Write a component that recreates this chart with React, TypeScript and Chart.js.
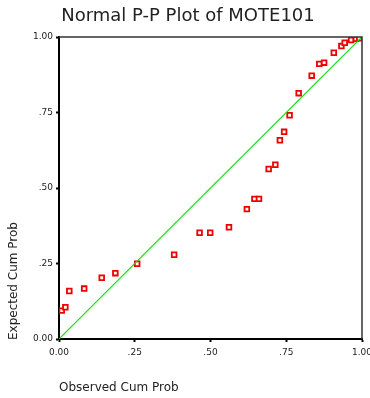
import React, { useEffect, useRef } from "react";
import { Chart, registerables } from "chart.js";

Chart.register(...registerables);

const chartTitle = "Normal P-P Plot of MOTE101";
const xTitle = "Observed Cum Prob";
const yTitle = "Expected Cum Prob";
const tickValues = [0, 0.25, 0.5, 0.75, 1];
const tickLabels = ["0.00", ".25", ".50", ".75", "1.00"];

const observed = [
  0.009, 0.021, 0.034, 0.083, 0.141, 0.186, 0.258, 0.38, 0.464, 0.499,
  0.561, 0.62, 0.645, 0.66, 0.692, 0.714, 0.729, 0.743, 0.761, 0.791,
  0.834, 0.859, 0.875, 0.907, 0.932, 0.943, 0.964, 0.98, 0.991,
];
const expected = [
  0.094, 0.105, 0.159, 0.167, 0.203, 0.218, 0.249, 0.279, 0.352, 0.352,
  0.37, 0.43, 0.464, 0.464, 0.563, 0.577, 0.658, 0.686, 0.741, 0.814,
  0.872, 0.911, 0.915, 0.948, 0.97, 0.981, 0.99, 0.994, 0.996,
];
const refLine = [0, 1];

const FONT = "'DejaVu Sans', sans-serif";

const decorPlugin = {
  id: "decor",
  afterDraw(chart: any) {
    const { ctx, chartArea } = chart;
    const { left, right, top, bottom } = chartArea;
    ctx.save();
    ctx.strokeStyle = "#333";
    ctx.lineWidth = 1.5;
    ctx.beginPath();
    ctx.moveTo(left, top);
    ctx.lineTo(right, top);
    ctx.lineTo(right, bottom);
    ctx.stroke();
    ctx.fillStyle = "#222";
    ctx.font = `18px ${FONT}`;
    ctx.textAlign = "center";
    ctx.textBaseline = "alphabetic";
    ctx.fillText(chartTitle, 188, 21);
    ctx.font = `12px ${FONT}`;
    ctx.textAlign = "left";
    ctx.textBaseline = "middle";
    ctx.fillText(xTitle, left, 388);
    ctx.translate(14, bottom + 1);
    ctx.rotate(-Math.PI / 2);
    ctx.fillText(yTitle, 0, 0);
    ctx.restore();
  },
};

export default function App() {
  const ref = useRef<HTMLCanvasElement>(null);
  useEffect(() => {
    if (!ref.current) return;
    const fmt = (v: any) => {
      const i = tickValues.findIndex((t) => Math.abs(t - Number(v)) < 1e-6);
      return i >= 0 ? tickLabels[i] : "";
    };
    const chart = new Chart(ref.current, {
      type: "scatter",
      data: {
        datasets: [
          {
            type: "line",
            data: refLine.map((v) => ({ x: v, y: v })),
            borderColor: "#11e011",
            borderWidth: 1.2,
            pointRadius: 0,
            fill: false,
          } as any,
          {
            data: observed.map((x, i) => ({ x, y: expected[i] })),
            pointStyle: "rect",
            pointRadius: 3.3,
            borderWidth: 1.8,
            borderColor: "#ee0000",
            backgroundColor: "#ffffff",
          },
        ],
      },
      plugins: [decorPlugin],
      options: {
        responsive: false,
        animation: false,
        layout: { padding: { top: 37, right: 8, left: 0, bottom: 0 } },
        plugins: {
          legend: { display: false },
          tooltip: { enabled: false },
          title: { display: false },
        },
        scales: {
          x: {
            type: "linear",
            min: 0,
            max: 1,
            afterBuildTicks: (s: any) => {
              s.ticks = tickValues.map((v) => ({ value: v }));
            },
            afterFit: (s: any) => {
              s.height = 59;
              s.paddingLeft = 0;
              s.paddingRight = 0;
            },
            ticks: {
              callback: fmt,
              font: { family: FONT, size: 9 },
              color: "#222",
              padding: 5,
              maxRotation: 0,
            },
            grid: {
              drawOnChartArea: false,
              drawTicks: true,
              tickLength: 3,
              tickWidth: 2,
              tickColor: "#000",
            },
            border: { display: true, color: "#000", width: 2 },
          },
          y: {
            type: "linear",
            min: 0,
            max: 1,
            afterBuildTicks: (s: any) => {
              s.ticks = tickValues.map((v) => ({ value: v }));
            },
            afterFit: (s: any) => {
              s.width = 59;
              s.paddingTop = 0;
              s.paddingBottom = 0;
            },
            ticks: {
              callback: fmt,
              font: { family: FONT, size: 9 },
              color: "#222",
              padding: 3,
            },
            grid: {
              drawOnChartArea: false,
              drawTicks: true,
              tickLength: 3,
              tickWidth: 2,
              tickColor: "#000",
            },
            border: { display: true, color: "#000", width: 2 },
          },
        },
      },
    });
    return () => chart.destroy();
  }, []);
  return (
    <div style={{ position: "fixed", left: 0, top: 0, width: 370, height: 398, background: "#fff" }}>
      <canvas ref={ref} width={370} height={398} style={{ display: "block" }} />
    </div>
  );
}
